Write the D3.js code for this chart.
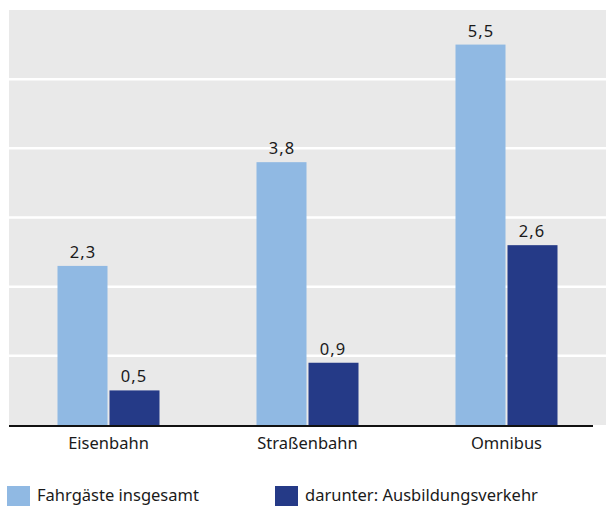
<!DOCTYPE html>
<html>
<head>
<meta charset="utf-8">
<script src="https://cdn.jsdelivr.net/npm/d3@7"></script>
<style>
  html, body { margin: 0; padding: 0; background: #fff; }
  svg { display: block; }
  text { font-family: "Noto Sans", sans-serif; fill: #1a1a1a; }
</style>
</head>
<body>
<svg id="chart" width="606" height="506"></svg>
<script>
// Fahrgäste im Linienverkehr (Mrd.)
const categories = ["Eisenbahn", "Straßenbahn", "Omnibus"];
const seriesNames = ["Fahrgäste insgesamt", "darunter: Ausbildungsverkehr"];
const totalValues = [2.3, 3.8, 5.5];
const trainingValues = [0.5, 0.9, 2.6];
const yTicks = [0, 1, 2, 3, 4, 5, 6];
const colors = ["#90b9e3", "#253a87"];

const svg = d3.select("#chart");
const plot = { left: 9, right: 606, top: 10, bottom: 425 };

const x = d3.scaleBand().domain(categories).range([plot.left, plot.right]).padding(0);
const xInner = d3.scaleBand().domain(seriesNames).range([0, 102]);
const y = d3.scaleLinear().domain([0, 6]).range([plot.bottom, plot.top]);

const fmt = v => d3.format(".1f")(v).replace(".", ",");

// plot background
svg.append("rect")
  .attr("x", plot.left).attr("y", plot.top)
  .attr("width", plot.right - plot.left).attr("height", plot.bottom - plot.top)
  .attr("fill", "#e9e9e9");

// horizontal gridlines
svg.append("g").selectAll("line")
  .data(yTicks.filter(t => t > 0 && t < 6))
  .join("line")
  .attr("x1", plot.left).attr("x2", plot.right)
  .attr("y1", d => y(d)).attr("y2", d => y(d))
  .attr("stroke", "#ffffff").attr("stroke-width", 2.5);

const rows = categories.map((c, i) => ({
  category: c,
  values: [
    { series: seriesNames[0], value: totalValues[i] },
    { series: seriesNames[1], value: trainingValues[i] }
  ]
}));

const groups = svg.append("g").selectAll("g")
  .data(rows)
  .join("g")
  .attr("transform", d => `translate(${x(d.category) + x.bandwidth() / 2 - 51},0)`);

groups.selectAll("rect")
  .data(d => d.values)
  .join("rect")
  .attr("x", d => xInner(d.series) + (d.series === seriesNames[1] ? 1 : 0))
  .attr("width", xInner.bandwidth() - 1)
  .attr("y", d => y(d.value))
  .attr("height", d => y(0) - y(d.value))
  .attr("fill", (d, i) => colors[i]);

groups.selectAll("text")
  .data(d => d.values)
  .join("text")
  .attr("x", d => xInner(d.series) + xInner.bandwidth() / 2)
  .attr("y", d => y(d.value) - 8)
  .attr("text-anchor", "middle")
  .attr("font-size", 16.5)
  .attr("letter-spacing", 1)
  .text(d => fmt(d.value));

// x axis baseline and category labels
svg.append("line")
  .attr("x1", plot.left).attr("x2", 593)
  .attr("y1", plot.bottom + 1).attr("y2", plot.bottom + 1)
  .attr("stroke", "#111").attr("stroke-width", 2);

const xAxis = svg.append("g")
  .attr("transform", `translate(0,${plot.bottom})`)
  .call(d3.axisBottom(x).tickSize(0).tickPadding(12));
xAxis.select(".domain").remove();
xAxis.selectAll("text")
  .attr("font-size", 16.5)
  .attr("font-family", "Noto Sans, sans-serif")
  .attr("fill", "#1a1a1a");

// legend
const legendX = [7, 275];
const legend = svg.append("g").selectAll("g")
  .data(seriesNames)
  .join("g")
  .attr("transform", (d, i) => `translate(${legendX[i]},486)`);
legend.append("rect")
  .attr("width", 23).attr("height", 22)
  .attr("fill", (d, i) => colors[i]);
legend.append("text")
  .attr("x", 30).attr("y", 15)
  .attr("font-size", 16.5)
  .text(d => d);
</script>
</body>
</html>
